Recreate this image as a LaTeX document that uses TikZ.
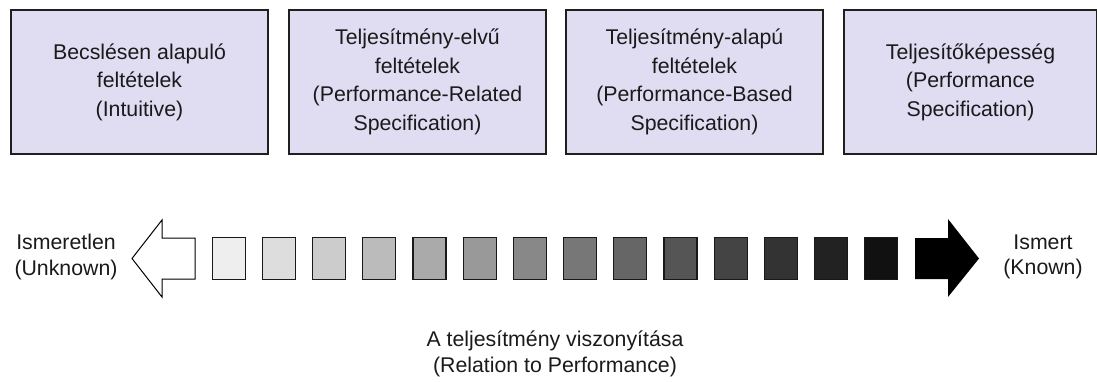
\documentclass[tikz,border=0pt]{standalone}
\usepackage{fontspec}
\setmainfont{Liberation Sans}
\definecolor{boxfill}{HTML}{E0DDF3}
\definecolor{txt}{HTML}{1A1A1A}
\begin{document}
\begin{tikzpicture}[x=1pt,y=-1pt,
  catbox/.style={draw=black!88,line width=2pt,fill=boxfill,minimum width=257pt,minimum height=144pt,inner sep=0pt,anchor=north west,align=center,text=txt,font=\fontsize{21.3}{28.5}\selectfont},
  lbl/.style={align=center,text=txt,font=\fontsize{21.3}{25.5}\selectfont,inner sep=0pt},
  gsq/.style={draw=black!90,line width=1.2pt,minimum width=33pt,minimum height=42pt,inner sep=0pt,anchor=north west}]
\useasboundingbox (0,0) rectangle (1097,381);
\node[catbox] (b1) at (10,9) {Becslésen alapuló\\feltételek\\(Intuitive)};
\node[catbox] (b2) at (288,9) {Teljesítmény-elvű\\feltételek\\(Performance-Related\\Specification)};
\node[catbox] (b3) at (565,9) {Teljesítmény-alapú\\feltételek\\(Performance-Based\\Specification)};
\node[catbox,minimum width=253pt] (b4) at (843,9) {Teljesítőképesség\\(Performance\\Specification)};
% gradient squares
\foreach \i/\c in {0/EEEEEE,1/DDDDDD,2/CCCCCC,3/BBBBBB,4/AAAAAA,5/999999,6/888888,7/777777,8/666666,9/555555,10/444444,11/333333,12/222222,13/111111}{
  \definecolor{sq\i}{HTML}{\c}
  \node[gsq,fill=sq\i] (s\i) at ({211.5+50.2*\i},237) {};
}
% arrows
\draw[black,line width=1pt,fill=white] (195,238) -- (162,238) -- (162,220) -- (132,258.5) -- (162,297) -- (162,279) -- (195,279) -- cycle;
\fill[black] (915,238) -- (948,238) -- (948,219) -- (979,258.5) -- (948,297) -- (948,279) -- (915,279) -- cycle;
\node[lbl] (unk) at (66,257) {Ismeretlen\\(Unknown)};
\node[lbl] (kn) at (1043,257) {Ismert\\(Known)};
\node[lbl] (rel) at (555,354) {A teljesítmény viszonyítása\\(Relation to Performance)};
\end{tikzpicture}
\end{document}
